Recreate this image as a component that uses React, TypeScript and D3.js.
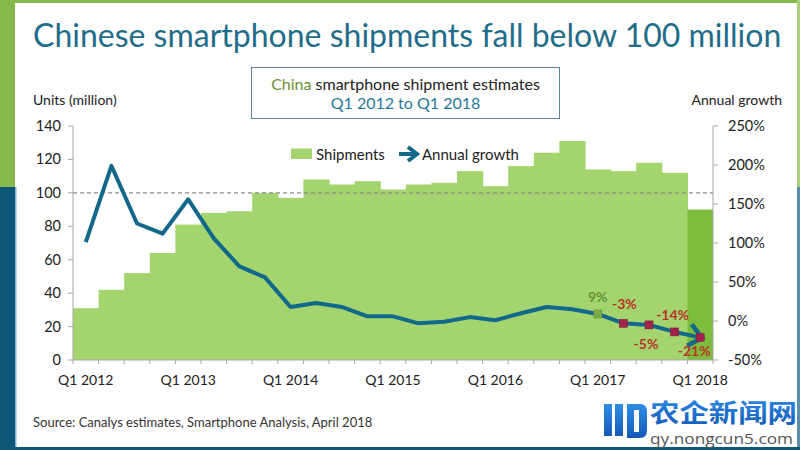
import React, { useLayoutEffect, useRef, useState } from "react";
import * as d3 from "d3";

const quarters = [
  "Q1 2012", "Q2 2012", "Q3 2012", "Q4 2012",
  "Q1 2013", "Q2 2013", "Q3 2013", "Q4 2013",
  "Q1 2014", "Q2 2014", "Q3 2014", "Q4 2014",
  "Q1 2015", "Q2 2015", "Q3 2015", "Q4 2015",
  "Q1 2016", "Q2 2016", "Q3 2016", "Q4 2016",
  "Q1 2017", "Q2 2017", "Q3 2017", "Q4 2017",
  "Q1 2018",
];
const shipments = [31, 42, 52, 64, 81, 88, 89, 100, 97, 108, 105, 107, 102, 105, 106, 113, 104, 116, 124, 131, 114, 113, 118, 112, 90];
const growth = [101, 199, 125, 112, 156, 106, 70, 56, 18, 23, 18, 6, 6, -3, -1, 5, 1, 10, 18, 15, 9, -3, -5, -14, -21];
const labeledQuarters = ["Q1 2012", "Q1 2013", "Q1 2014", "Q1 2015", "Q1 2016", "Q1 2017", "Q1 2018"];
const leftTicks = [0, 20, 40, 60, 80, 100, 120, 140];
const rightTicks = [-50, 0, 50, 100, 150, 200, 250];
const annotations = [
  { q: "Q1 2017", text: "9%", kind: "pos", dx: 0, dy: -12 },
  { q: "Q2 2017", text: "-3%", kind: "neg", dx: 1, dy: -14 },
  { q: "Q3 2017", text: "-5%", kind: "neg", dx: -3, dy: 24 },
  { q: "Q4 2017", text: "-14%", kind: "neg", dx: -2, dy: -12 },
  { q: "Q1 2018", text: "-21%", kind: "neg", dx: -6, dy: 19 },
];

const FONT = "Lato, 'Open Sans', sans-serif";
const TEAL = "#1f6d8a";
const LINE = "#12688a";
const BAR = "#a3d46d";
const BAR_LAST = "#7dbd3b";
const RED = "#b8322a";
const OLIVE = "#6a9136";
const AXIS = "#a6a6a6";
const TITLE_W = 748;

export default function App() {
  const titleRef = useRef<SVGTextElement>(null);
  const [titleScale, setTitleScale] = useState(0.89);
  useLayoutEffect(() => {
    if (titleRef.current) {
      const w = titleRef.current.getComputedTextLength();
      if (w > 0) setTitleScale(TITLE_W / w);
    }
  }, []);

  const x = d3.scaleBand<string>().domain(quarters).range([73, 713]).padding(0);
  const yL = d3.scaleLinear().domain([0, 140]).range([360, 126]);
  const yR = d3.scaleLinear().domain([-50, 250]).range([360, 126]);
  const bw = x.bandwidth();
  const cx = (q: string) => (x(q) as number) + bw / 2;

  const pts: [number, number][] = quarters.map((q, i) => [cx(q), yR(growth[i])]);
  const line = d3.line()(pts) as string;

  // arrowhead at the last point, oriented along the final segment
  const [tx, ty] = pts[pts.length - 1];
  const [sx, sy] = pts[pts.length - 2];
  const ang = Math.atan2(ty - sy, tx - sx);
  const armLen = 17;
  const spread = (40 * Math.PI) / 180;
  const tipX = tx + 2 * Math.cos(ang);
  const tipY = ty + 2 * Math.sin(ang);
  const a1 = [tipX - armLen * Math.cos(ang - spread), tipY - armLen * Math.sin(ang - spread)];
  const a2 = [tipX - armLen * Math.cos(ang + spread), tipY - armLen * Math.sin(ang + spread)];
  const arrowPath = `M${a1[0]},${a1[1]} L${tipX},${tipY} L${a2[0]},${a2[1]}`;

  const annIdx = (q: string) => quarters.indexOf(q);

  return (
    <svg width={800} height={450} style={{ position: "absolute", left: 0, top: 0, background: "#fff" }} fontFamily={FONT}>
      <defs>
        <linearGradient id="wm" x1="0" y1="0" x2="0" y2="1">
          <stop offset="0" stopColor="#2d8ee6" />
          <stop offset="1" stopColor="#1559b8" />
        </linearGradient>
      </defs>
      {/* frame decoration */}
      <rect x={0} y={0} width={800} height={450} fill="#fff" />
      <rect x={0} y={0} width={800} height={3} fill="#86b94a" />
      <rect x={0} y={0} width={15} height={187} fill="#86b94a" />
      <rect x={0} y={187} width={15} height={263} fill="#0d5778" />
      <rect x={15} y={187} width={1.5} height={263} fill="#7fb6d0" />
      <rect x={797} y={0} width={3} height={187} fill="#a9cf7a" />
      <rect x={797} y={187} width={3} height={263} fill="#5b8ea8" />
      <rect x={0} y={447} width={800} height={3} fill="#0d5778" />

      {/* title */}
      <g transform={`translate(33,47) scale(${titleScale},1)`}>
        <text ref={titleRef} x={0} y={0} fontSize={33} fill={TEAL}>
          Chinese smartphone shipments fall below 100 million
        </text>
      </g>

      {/* subtitle box */}
      <rect x={251.5} y={67.5} width={308} height={51} fill="#fff" stroke="#5a8596" strokeWidth={1} />
      <text x={405.5} y={90} fontSize={16} textAnchor="middle" fill="#222">
        <tspan fill={OLIVE}>China</tspan> smartphone shipment estimates
      </text>
      <text x={405.5} y={109} fontSize={16} textAnchor="middle" fill="#1f7898">
        Q1 2012 to Q1 2018
      </text>

      {/* axis titles */}
      <text x={33} y={105} fontSize={14} fill="#222">Units (million)</text>
      <text x={782} y={105} fontSize={14} fill="#222" textAnchor="end">Annual growth</text>

      {/* bars */}
      {quarters.map((q, i) => (
        <rect
          key={q}
          x={x(q) as number}
          y={yL(shipments[i])}
          width={bw + (i < quarters.length - 1 ? 0.6 : 0)}
          height={yL(0) - yL(shipments[i])}
          fill={i === quarters.length - 1 ? BAR_LAST : BAR}
        />
      ))}

      {/* 100 million reference */}
      <line x1={73} x2={713} y1={yL(100)} y2={yL(100)} stroke="#8c8c8c" strokeWidth={1.2} strokeDasharray="4,3" />

      {/* left axis */}
      <line x1={73} x2={73} y1={yL(0)} y2={yL(140)} stroke={AXIS} />
      {leftTicks.map((t) => (
        <g key={t}>
          <line x1={68} x2={73} y1={yL(t)} y2={yL(t)} stroke={AXIS} />
          <text x={61} y={yL(t) + 5} fontSize={14.5} textAnchor="end" fill="#222">{t}</text>
        </g>
      ))}
      {/* right axis */}
      <line x1={713} x2={713} y1={yR(-50)} y2={yR(250)} stroke={AXIS} />
      {rightTicks.map((t) => (
        <g key={t}>
          <line x1={713} x2={718} y1={yR(t)} y2={yR(t)} stroke={AXIS} />
          <text x={728} y={yR(t) + 5} fontSize={14.5} fill="#222">{t}%</text>
        </g>
      ))}
      {/* x axis */}
      <line x1={73} x2={713} y1={360} y2={360} stroke={AXIS} />
      {quarters.map((q) => (
        <line key={q} x1={x(q) as number} x2={x(q) as number} y1={360} y2={364} stroke={AXIS} />
      ))}
      <line x1={713} x2={713} y1={360} y2={364} stroke={AXIS} />
      {labeledQuarters.map((q) => (
        <text key={q} x={cx(q)} y={385} fontSize={14} textAnchor="middle" fill="#222">{q}</text>
      ))}

      {/* growth line */}
      <path d={line} fill="none" stroke={LINE} strokeWidth={4} strokeLinejoin="round" />
      <path d={arrowPath} fill="none" stroke={LINE} strokeWidth={4.5} strokeLinejoin="miter" />

      {/* annotated markers */}
      {annotations.map((a) => {
        const i = annIdx(a.q);
        const px = cx(a.q);
        const py = yR(growth[i]);
        return (
          <g key={a.q}>
            <rect x={px - 4} y={py - 4} width={8} height={8} fill={a.kind === "pos" ? "#7faa4a" : "#a3234c"} stroke={a.kind === "pos" ? "#5f8a35" : "#7e1a3a"} strokeWidth={0.5} />
            <text x={px + a.dx} y={py + a.dy} fontSize={14} fontWeight={700} textAnchor="middle" fill={a.kind === "pos" ? OLIVE : RED}>
              {a.text}
            </text>
          </g>
        );
      })}

      {/* legend */}
      <rect x={291} y={148.5} width={21} height={10.5} fill={BAR} />
      <text x={316} y={159.5} fontSize={15} fill="#222">Shipments</text>
      <line x1={399} x2={414} y1={154} y2={154} stroke={LINE} strokeWidth={4} />
      <path d="M408,147 L417,154 L408,161" fill="none" stroke={LINE} strokeWidth={4} />
      <text x={422} y={159.5} fontSize={15} fill="#222">Annual growth</text>

      {/* source */}
      <text x={33} y={427} fontSize={13} fill="#333">Source: Canalys estimates, Smartphone Analysis, April 2018</text>

      {/* watermark */}
      <g>
        <path d="M604,404 L612,404 L612,436 L604,436 Z M615,404 L623,404 L623,436 L615,436 Z" fill="url(#wm)" />
        <path d="M627,404 L640,404 Q647,404 647,412 L647,430 Q647,438 640,438 L627,438 Z M634,410 L634,432 L639,432 L639,410 Z" fill="url(#wm)" fillRule="evenodd" />
        <text x={650} y={422} fontSize={25} fontWeight={700} fill="url(#wm)" fontFamily="'Noto Sans CJK SC', sans-serif" textLength={147} lengthAdjust="spacingAndGlyphs">农企新闻网</text>
        <text x={650} y={444} fontSize={15} fill="#555" fontFamily="'Open Sans', sans-serif" textLength={143} lengthAdjust="spacingAndGlyphs">qy.nongcun5.com</text>
      </g>
    </svg>
  );
}
